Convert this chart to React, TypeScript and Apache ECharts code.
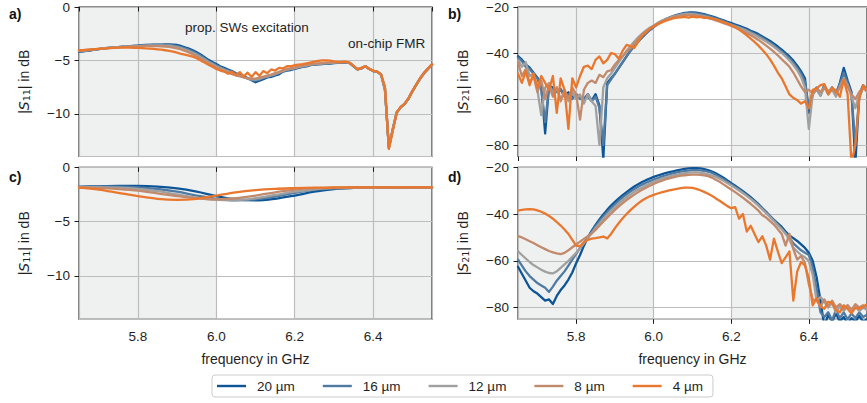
import { useEffect, useRef } from "react";
import * as echarts from "echarts";

const FONT = "'Liberation Sans', Arial, sans-serif";

// frequency grid (GHz)
const FREQ = [
  5.65, 5.66, 5.67, 5.68, 5.69, 5.7, 5.71, 5.72, 5.73, 5.74,
  5.75, 5.76, 5.77, 5.78, 5.79, 5.8, 5.81, 5.82, 5.83, 5.84,
  5.85, 5.86, 5.87, 5.88, 5.89, 5.9, 5.91, 5.92, 5.93, 5.94,
  5.95, 5.96, 5.97, 5.98, 5.99, 6.0, 6.01, 6.02, 6.03, 6.04,
  6.05, 6.06, 6.07, 6.08, 6.09, 6.1, 6.11, 6.12, 6.13, 6.14,
  6.15, 6.16, 6.17, 6.18, 6.19, 6.2, 6.21, 6.22, 6.23, 6.24,
  6.25, 6.26, 6.27, 6.28, 6.29, 6.3, 6.31, 6.32, 6.33, 6.34,
  6.35, 6.36, 6.37, 6.38, 6.39, 6.4, 6.41, 6.42, 6.43, 6.44,
  6.45, 6.46, 6.47, 6.48, 6.49, 6.5, 6.51, 6.52, 6.53, 6.54, 6.55,
];
const FREQ_C = [
  5.65, 5.7, 5.75, 5.8, 5.85, 5.9, 5.95, 6.0, 6.05, 6.1,
  6.15, 6.2, 6.25, 6.3, 6.35, 6.4, 6.45, 6.5, 6.55,
];

const WIDTHS = ["20 µm", "16 µm", "12 µm", "8 µm", "4 µm"];
const COLORS = ["#0d5596", "#4f7ba3", "#a0a0a0", "#c28a6c", "#e9772d"];

// panel a) |S11|, dB
const S11A_20 = [
  -4.2, -4.15, -4.1, -4.05, -4.0, -3.95, -3.9, -3.85, -3.8, -3.78,
  -3.75, -3.72, -3.7, -3.67, -3.64, -3.61, -3.58, -3.56, -3.54, -3.53,
  -3.52, -3.52, -3.51, -3.5, -3.52, -3.56, -3.65, -3.78, -3.9, -4.05,
  -4.25, -4.45, -4.7, -4.95, -5.15, -5.35, -5.55, -5.7, -5.85, -6.0,
  -6.2, -6.35, -6.5, -6.65, -6.85, -7.05, -6.9, -6.75, -6.6, -6.55,
  -6.4, -6.3, -6.05, -5.95, -5.9, -5.8, -5.7, -5.6, -5.55, -5.45,
  -5.4, -5.38, -5.35, -5.3, -5.3, -5.25, -5.22, -5.2, -5.18, -5.25,
  -5.55, -5.85, -5.75, -5.55, -5.8, -6.0, -6.05, -6.3, -7.6, -13.2,
  -11.5, -9.9, -9.4, -9.1, -8.6, -7.9, -7.3, -6.7, -6.2, -5.8, -5.4,
];
const S11A_16 = [
  -4.15, -4.12, -4.08, -4.03, -3.98, -3.94, -3.9, -3.86, -3.82, -3.79,
  -3.76, -3.73, -3.71, -3.68, -3.65, -3.63, -3.6, -3.58, -3.56, -3.55,
  -3.55, -3.55, -3.55, -3.56, -3.6, -3.66, -3.76, -3.88, -4.0, -4.15,
  -4.35, -4.55, -4.8, -5.05, -5.25, -5.45, -5.62, -5.78, -5.92, -6.08,
  -6.25, -6.4, -6.55, -6.7, -6.82, -6.9, -6.8, -6.65, -6.55, -6.45,
  -6.32, -6.2, -6.0, -5.9, -5.82, -5.74, -5.65, -5.57, -5.5, -5.42,
  -5.37, -5.34, -5.31, -5.27, -5.26, -5.22, -5.2, -5.18, -5.17, -5.24,
  -5.55, -5.85, -5.75, -5.55, -5.8, -6.0, -6.05, -6.35, -7.8, -13.1,
  -11.4, -9.85, -9.4, -9.05, -8.55, -7.85, -7.25, -6.65, -6.15, -5.75, -5.4,
];
const S11A_12 = [
  -4.12, -4.1, -4.05, -4.0, -3.96, -3.92, -3.88, -3.84, -3.8, -3.78,
  -3.76, -3.74, -3.72, -3.7, -3.68, -3.66, -3.64, -3.62, -3.6, -3.6,
  -3.6, -3.6, -3.61, -3.63, -3.68, -3.75, -3.85, -3.98, -4.12, -4.28,
  -4.48, -4.7, -4.92, -5.15, -5.35, -5.55, -5.72, -5.88, -6.02, -6.18,
  -6.32, -6.45, -6.58, -6.7, -6.78, -6.8, -6.72, -6.6, -6.5, -6.4,
  -6.28, -6.15, -5.98, -5.88, -5.8, -5.72, -5.63, -5.55, -5.48, -5.4,
  -5.35, -5.32, -5.29, -5.25, -5.24, -5.2, -5.18, -5.17, -5.16, -5.24,
  -5.52, -5.82, -5.72, -5.55, -5.78, -5.98, -6.05, -6.32, -7.7, -13.15,
  -11.45, -9.85, -9.38, -9.08, -8.58, -7.88, -7.28, -6.68, -6.18, -5.78, -5.38,
];
const S11A_8 = [
  -4.1, -4.08, -4.04, -4.0, -3.96, -3.92, -3.88, -3.85, -3.82, -3.8,
  -3.78, -3.76, -3.74, -3.72, -3.7, -3.69, -3.68, -3.67, -3.66, -3.66,
  -3.67, -3.68, -3.7, -3.73, -3.8, -3.88, -3.98, -4.1, -4.25, -4.42,
  -4.62, -4.85, -5.08, -5.3, -5.5, -5.68, -5.85, -6.0, -6.15, -6.28,
  -6.4, -6.5, -6.6, -6.68, -6.72, -6.7, -6.62, -6.52, -6.42, -6.32,
  -6.2, -6.08, -5.92, -5.82, -5.74, -5.66, -5.58, -5.5, -5.43, -5.36,
  -5.31, -5.28, -5.25, -5.22, -5.21, -5.18, -5.16, -5.15, -5.15, -5.24,
  -5.52, -5.82, -5.72, -5.55, -5.78, -5.98, -6.05, -6.3, -7.6, -13.2,
  -11.5, -9.88, -9.38, -9.08, -8.58, -7.88, -7.28, -6.68, -6.18, -5.78, -5.38,
];
const S11A_4 = [
  -4.05, -4.05, -4.0, -3.98, -3.95, -3.92, -3.9, -3.88, -3.85, -3.82,
  -3.8, -3.8, -3.8, -3.8, -3.82, -3.83, -3.85, -3.88, -3.9, -3.92,
  -3.96, -4.0, -4.05, -4.1, -4.18, -4.28, -4.38, -4.45, -4.55, -4.65,
  -4.8, -5.0, -5.2, -5.4, -5.6, -5.8, -5.95, -6.05, -6.25, -6.05,
  -6.4, -6.1, -6.5, -6.15, -6.55, -6.1, -6.45, -6.0, -6.2, -5.85,
  -5.95, -5.7, -5.75, -5.55, -5.55, -5.45, -5.4, -5.35, -5.28, -5.2,
  -5.12, -5.05, -5.0, -5.0, -5.02, -5.1, -5.15, -5.15, -5.12, -5.22,
  -5.5, -5.85, -5.7, -5.55, -5.8, -5.95, -6.05, -6.3, -7.5, -13.3,
  -11.6, -9.9, -9.35, -9.1, -8.55, -7.9, -7.25, -6.65, -6.15, -5.75, -5.35,
];

// panel b) |S21|, dB
const S21B_20 = [
  -41.4, -42.9, -45.0, -46.4, -48.6, -50.7, -54.3, -75.0, -54.3, -55.0,
  -56.4, -55.7, -58.6, -57.1, -59.3, -57.9, -59.3, -60.0, -57.9, -60.7,
  -57.9, -62.9, -86.0, -53.0, -51.0, -49.0, -46.5, -44.0, -41.5, -39.0,
  -37.0, -35.0, -33.2, -31.5, -30.0, -28.6, -27.3, -26.2, -25.3, -24.6,
  -24.0, -23.4, -23.0, -22.6, -22.4, -22.3, -22.5, -22.8, -23.1, -23.6,
  -24.1, -24.6, -25.2, -25.8, -26.4, -27.0, -27.6, -28.2, -28.8, -29.5,
  -30.3, -31.0, -31.8, -32.8, -33.8, -34.8, -36.0, -37.2, -38.5, -40.0,
  -41.5, -43.3, -45.5, -48.0, -51.0, -66.0, -58.0, -55.5, -58.5, -54.0,
  -57.5, -55.0, -58.0, -53.0, -46.5, -52.0, -57.0, -88.0, -58.0, -54.0, -56.0,
];
const S21B_16 = [
  -42.0, -43.5, -46.0, -47.0, -49.0, -51.0, -56.0, -70.0, -55.0, -56.0,
  -57.0, -56.0, -59.0, -58.0, -60.0, -58.0, -60.0, -60.0, -59.0, -61.0,
  -59.0, -64.0, -80.0, -54.0, -51.5, -49.0, -46.5, -44.0, -41.5, -39.0,
  -37.0, -35.0, -33.2, -31.5, -30.0, -28.7, -27.5, -26.4, -25.5, -24.8,
  -24.2, -23.6, -23.2, -22.8, -22.6, -22.6, -22.8, -23.1, -23.4, -23.9,
  -24.4, -24.9, -25.5, -26.1, -26.8, -27.5, -28.1, -28.7, -29.3, -30.0,
  -30.8, -31.6, -32.4, -33.4, -34.4, -35.5, -36.7, -38.0, -39.3, -40.8,
  -42.3, -44.2, -46.5, -49.0, -52.5, -64.0, -57.0, -55.0, -57.5, -54.5,
  -57.0, -55.5, -57.5, -53.5, -48.5, -53.0, -58.0, -80.0, -59.0, -55.0, -56.5,
];
const S21B_12 = [
  -43.0, -46.0, -44.0, -50.0, -49.0, -56.0, -67.0, -55.0, -53.0, -58.0,
  -55.0, -60.0, -57.0, -61.0, -57.0, -60.0, -58.0, -62.0, -58.0, -61.0,
  -63.0, -80.0, -55.0, -51.0, -49.0, -46.5, -44.0, -41.5, -39.0, -37.0,
  -35.0, -33.2, -31.6, -30.2, -29.0, -28.0, -27.0, -26.0, -25.3, -24.7,
  -24.1, -23.7, -23.3, -23.1, -23.0, -23.1, -23.3, -23.6, -24.0, -24.4,
  -24.9, -25.4, -26.0, -26.6, -27.2, -27.8, -28.4, -29.0, -29.7, -30.5,
  -31.3, -32.1, -33.0, -34.0, -35.0, -36.1, -37.3, -38.6, -40.0, -41.5,
  -43.2, -45.2, -47.5, -50.5, -55.0, -73.0, -58.0, -56.0, -58.5, -55.0,
  -58.0, -56.0, -59.0, -54.5, -51.0, -54.0, -59.0, -64.0, -58.0, -55.0, -57.0,
];
const S21B_8 = [
  -44.0, -50.0, -47.0, -53.0, -50.0, -57.0, -52.0, -60.0, -54.0, -59.0,
  -55.0, -61.0, -56.0, -60.0, -55.0, -58.0, -69.0, -56.0, -53.0, -52.0,
  -53.0, -49.5, -50.5, -48.0, -47.5, -45.0, -43.0, -41.5, -39.5, -38.0,
  -36.0, -34.0, -32.0, -30.5, -29.3, -28.3, -27.2, -26.3, -25.6, -25.0,
  -24.4, -24.0, -23.7, -23.5, -23.4, -23.5, -23.7, -24.0, -24.4, -24.8,
  -25.3, -25.8, -26.4, -27.0, -27.6, -28.2, -28.9, -29.7, -30.5, -31.4,
  -32.3, -33.3, -34.3, -35.5, -36.8, -38.1, -39.5, -41.0, -42.7, -44.3,
  -46.0, -48.5, -51.5, -54.5, -57.0, -56.0, -57.5, -55.5, -57.0, -55.0,
  -56.5, -55.5, -57.5, -55.0, -52.5, -54.5, -58.0, -60.0, -57.0, -55.0, -56.5,
];
const S21B_4 = [
  -49.0, -53.0, -48.0, -54.0, -49.0, -55.0, -50.0, -53.0, -56.0, -50.0,
  -66.0, -51.0, -56.0, -73.0, -51.0, -55.0, -50.0, -46.0, -45.5, -47.0,
  -43.0, -41.5, -44.5, -43.0, -40.0, -40.5, -42.5, -39.0, -36.5, -37.0,
  -37.8, -35.0, -32.5, -31.0, -29.5, -28.5, -27.5, -26.8, -26.0, -25.5,
  -25.0, -24.6, -24.5, -24.3, -24.6, -24.2, -24.5, -24.3, -24.7, -24.6,
  -25.0, -25.4, -26.0, -26.6, -27.3, -27.9, -28.8, -29.8, -31.0, -32.3,
  -33.8, -35.2, -36.8, -38.6, -40.5, -42.8, -45.5, -48.5, -51.0, -54.5,
  -58.0, -59.5, -60.5, -62.0, -61.0, -64.0, -56.0, -55.5, -54.0, -53.5,
  -58.0, -55.0, -56.5, -59.0, -51.5, -58.0, -88.0, -80.0, -60.0, -54.0, -56.0,
];

// panel c) |S11|, dB
const S11C_20 = [-1.8, -1.75, -1.72, -1.72, -1.78, -1.95, -2.25, -2.65, -2.95, -3.05, -2.9, -2.6, -2.25, -2.0, -1.9, -1.88, -1.9, -1.85, -1.85];
const S11C_16 = [-1.8, -1.77, -1.78, -1.85, -2.0, -2.25, -2.6, -2.9, -3.05, -2.95, -2.7, -2.35, -2.08, -1.95, -1.9, -1.88, -1.88, -1.85, -1.85];
const S11C_12 = [-1.82, -1.82, -1.88, -2.0, -2.2, -2.5, -2.8, -3.0, -3.02, -2.85, -2.55, -2.25, -2.02, -1.92, -1.88, -1.87, -1.86, -1.85, -1.85];
const S11C_8 = [-1.85, -1.9, -2.0, -2.15, -2.4, -2.65, -2.85, -2.95, -2.85, -2.6, -2.3, -2.05, -1.92, -1.88, -1.86, -1.85, -1.85, -1.85, -1.85];
const S11C_4 = [-1.88, -2.05, -2.35, -2.65, -2.9, -3.0, -2.9, -2.6, -2.3, -2.1, -1.98, -1.92, -1.88, -1.86, -1.85, -1.85, -1.85, -1.85, -1.85];

// panel d) |S21|, dB
const S21D_20 = [
  -62.5, -65.5, -68.5, -71.5, -73.0, -74.0, -75.5, -77.0, -76.5, -78.5,
  -75.0, -72.5, -70.5, -68.0, -65.0, -61.0, -57.5, -53.5, -50.0, -47.2,
  -44.6, -42.3, -40.2, -38.2, -36.4, -34.8, -33.3, -31.9, -30.6, -29.4,
  -28.2, -27.2, -26.3, -25.5, -24.8, -24.1, -23.5, -23.0, -22.5, -22.1,
  -21.7, -21.3, -21.0, -20.7, -20.5, -20.4, -20.4, -20.5, -20.8, -21.2,
  -21.8, -22.6, -23.5, -24.5, -25.6, -26.8, -27.9, -29.0, -30.2, -31.5,
  -32.8, -34.2, -35.7, -37.4, -39.0, -40.8, -42.5, -44.0, -45.5, -47.5,
  -49.2, -50.3, -51.5, -53.0, -54.5, -56.5, -60.0, -67.0, -77.0, -88.0,
  -83.0, -86.0, -82.5, -86.0, -84.0, -87.0, -84.5, -86.0, -83.5, -86.0, -85.0,
];
const S21D_16 = [
  -59.5, -62.0, -64.5, -66.5, -68.0, -69.5, -70.5, -71.5, -73.3, -71.0,
  -68.5, -66.5, -64.5, -62.0, -59.5, -57.0, -54.5, -52.2, -50.0, -47.6,
  -45.2, -43.0, -41.0, -39.1, -37.4, -35.8, -34.3, -32.9, -31.6, -30.4,
  -29.3, -28.3, -27.4, -26.6, -25.9, -25.2, -24.6, -24.0, -23.5, -23.0,
  -22.6, -22.2, -21.9, -21.6, -21.4, -21.2, -21.2, -21.3, -21.5, -21.9,
  -22.4, -23.2, -24.1, -25.1, -26.2, -27.3, -28.4, -29.5, -30.7, -32.0,
  -33.3, -34.7, -36.2, -37.8, -39.4, -41.1, -42.8, -44.5, -46.2, -48.0,
  -50.0, -52.5, -54.0, -55.5, -56.5, -57.5, -63.0, -72.0, -82.0, -84.0,
  -82.0, -85.5, -81.0, -84.5, -82.0, -85.0, -82.5, -84.5, -82.0, -84.0, -83.0,
];
const S21D_12 = [
  -55.9, -57.5, -59.0, -60.5, -61.8, -62.8, -63.8, -64.6, -65.2, -65.4,
  -64.5, -63.0, -61.5, -60.0, -58.3, -56.6, -54.6, -52.5, -50.3, -48.2,
  -46.0, -44.0, -42.0, -40.2, -38.5, -37.0, -35.5, -34.1, -32.8, -31.6,
  -30.5, -29.5, -28.6, -27.7, -26.9, -26.2, -25.5, -24.9, -24.4, -23.9,
  -23.5, -23.1, -22.8, -22.5, -22.3, -22.2, -22.2, -22.3, -22.6, -23.0,
  -23.5, -24.1, -24.9, -25.8, -26.8, -27.8, -28.8, -29.9, -31.0, -32.2,
  -33.5, -34.9, -36.4, -38.0, -39.6, -41.3, -43.0, -44.8, -46.5, -48.5,
  -51.0, -54.5, -56.0, -57.5, -58.5, -60.0, -66.0, -77.0, -75.5, -77.5,
  -80.0, -78.0, -82.0, -79.5, -81.5, -79.0, -81.0, -79.5, -81.5, -80.0, -81.0,
];
const S21D_8 = [
  -49.4, -50.0, -50.8, -51.6, -52.4, -53.3, -54.2, -55.0, -55.8, -56.4,
  -56.8, -57.1, -56.6, -55.5, -54.2, -53.0, -51.8, -50.6, -49.5, -48.3,
  -46.8, -45.0, -43.2, -41.5, -39.8, -38.2, -36.7, -35.3, -34.0, -32.8,
  -31.7, -30.6, -29.6, -28.7, -27.9, -27.1, -26.4, -25.8, -25.2, -24.7,
  -24.3, -23.9, -23.6, -23.4, -23.2, -23.1, -23.1, -23.2, -23.5, -23.8,
  -24.4, -25.3, -26.2, -27.3, -28.4, -29.5, -30.6, -31.8, -33.0, -34.3,
  -35.6, -37.0, -38.5, -40.5, -41.5, -43.0, -44.5, -46.5, -48.5, -53.5,
  -48.5, -55.0, -59.5, -58.0, -61.0, -70.0, -76.5, -77.0, -79.5, -76.5,
  -79.5, -77.0, -80.0, -78.5, -80.5, -79.0, -81.0, -78.5, -80.0, -79.0, -80.0,
];
const S21D_4 = [
  -38.5, -38.2, -38.0, -37.9, -38.0, -38.4, -39.0, -39.8, -40.8, -42.0,
  -43.4, -44.9, -46.6, -48.5, -51.0, -53.5, -53.8, -52.0, -51.0, -50.5,
  -50.3, -50.0, -49.6, -50.4, -48.5, -46.0, -43.8, -41.8, -40.0, -38.3,
  -36.8, -35.4, -34.2, -33.2, -32.4, -31.8, -31.2, -30.7, -30.3, -29.9,
  -29.5, -29.2, -28.9, -28.7, -28.7, -28.8, -29.2, -29.8, -30.5, -31.3,
  -32.2, -33.3, -34.3, -35.5, -36.6, -37.5, -37.0, -42.0, -40.0, -47.5,
  -45.0, -48.5, -52.0, -49.5, -53.5, -59.5, -50.5, -56.0, -61.0, -58.5,
  -56.0, -77.0, -64.5, -60.5, -62.0, -67.5, -79.0, -76.0, -79.5, -80.5,
  -77.5, -78.0, -81.0, -82.0, -79.0, -80.5, -82.5, -80.0, -80.5, -79.7, -78.5,
];

const PANEL_A = [S11A_20, S11A_16, S11A_12, S11A_8, S11A_4];
const PANEL_B = [S21B_20, S21B_16, S21B_12, S21B_8, S21B_4];
const PANEL_C = [S11C_20, S11C_16, S11C_12, S11C_8, S11C_4];
const PANEL_D = [S21D_20, S21D_16, S21D_12, S21D_8, S21D_4];

const TXT = "#1f1f1f";

function yFmt(v: number) {
  return v < 0 ? "\u2212" + String(-v) : String(v);
}

export default function App() {
  const ref = useRef<HTMLDivElement>(null);

  useEffect(() => {
    if (!ref.current) return;
    const chart = echarts.init(ref.current, undefined, { renderer: "svg" });

    const grids = [
      { left: 79, top: 5, width: 353, height: 151.5 },
      { left: 518, top: 5, width: 353, height: 151.5 },
      { left: 79, top: 167.3, width: 353, height: 152 },
      { left: 518, top: 167.3, width: 353, height: 152 },
    ].map((g) => ({
      ...g,
      show: true,
      backgroundColor: "transparent",
      borderColor: "#1a1a1a",
      borderWidth: 1.1,
    }));

    const splitLine = { show: true, lineStyle: { color: "#bdbdbd", width: 1.2 } };
    const axisTick = { show: true, length: 4.5, lineStyle: { color: "#1a1a1a", width: 1 } };

    const xAxes = [0, 1, 2, 3].map((i) => ({
      type: "value",
      gridIndex: i,
      min: 5.65,
      max: 6.55,
      minInterval: 0.2,
      maxInterval: 0.2,
      splitLine,
      axisTick,
      axisLine: { show: false },
      axisLabel: {
        show: i >= 2,
        showMinLabel: false,
        showMaxLabel: false,
        formatter: (v: number) => v.toFixed(1),
        fontSize: 13.5,
        color: TXT,
        fontFamily: FONT,
        margin: 10,
      },
      name: i >= 2 ? "frequency in GHz" : "",
      nameLocation: "middle",
      nameGap: 33,
      nameTextStyle: { fontSize: 14, color: TXT, fontFamily: FONT },
    }));

    const yRich = {
      t: { fontSize: 14, color: TXT, fontFamily: FONT },
      i: { fontSize: 14, color: TXT, fontFamily: "'DejaVu Sans', sans-serif", fontStyle: "italic" },
      s: { fontSize: 9.5, color: TXT, fontFamily: "'DejaVu Sans', sans-serif", padding: [5, 0, 0, 0] },
    };

    const yAxes = [0, 1, 2, 3].map((i) => {
      const isS21 = i === 1 || i === 3;
      return {
        type: "value",
        gridIndex: i,
        min: isS21 ? -85 : -14,
        max: isS21 ? -20 : 0,
        minInterval: isS21 ? 20 : 5,
        maxInterval: isS21 ? 20 : 5,
        splitLine,
        axisTick,
        axisLine: { show: false },
        axisLabel: {
          showMinLabel: false,
          showMaxLabel: true,
          formatter: yFmt,
          fontSize: 13.5,
          color: TXT,
          fontFamily: FONT,
          margin: 9,
        },
        name: isS21 ? "{t||}{i|S}{s|21}{t|| in dB}" : "{t||}{i|S}{s|11}{t|| in dB}",
        nameLocation: "middle",
        nameGap: 48,
        nameTextStyle: { fontSize: 14, color: TXT, fontFamily: FONT, rich: yRich },
      };
    });

    const panels = [
      { xs: FREQ, data: PANEL_A, smooth: false },
      { xs: FREQ, data: PANEL_B, smooth: false },
      { xs: FREQ_C, data: PANEL_C, smooth: 0.35 },
      { xs: FREQ, data: PANEL_D, smooth: false },
    ];

    const series: any[] = [];
    panels.forEach((p, pi) => {
      p.data.forEach((ys, k) => {
        const s: any = {
          type: "line",
          name: WIDTHS[k],
          xAxisIndex: pi,
          yAxisIndex: pi,
          data: p.xs.map((x, j) => [x, ys[j]]),
          showSymbol: false,
          symbol: "none",
          smooth: p.smooth,
          clip: true,
          z: 3,
          color: COLORS[k],
          lineStyle: { width: 2.3, color: COLORS[k], join: "round", cap: "round" },
          emphasis: { disabled: true },
        };
        if (k === 0) {
          s.markArea = {
            silent: true,
            z: -1,
            itemStyle: { color: "#eff1f1" },
            data: [
              [{ xAxis: 5.65 }, { xAxis: 6.0 }],
              [{ xAxis: 6.2 }, { xAxis: 6.55 }],
            ],
          };
        }
        series.push(s);
      });
    });

    const panelLabel = (text: string, x: number, y: number) => ({
      type: "text",
      x,
      y,
      style: {
        text,
        fontSize: 14,
        fontWeight: "bold",
        fontFamily: FONT,
        fill: "#111111",
        verticalAlign: "middle",
      },
    });
    const note = (text: string, x: number, y: number) => ({
      type: "text",
      x,
      y,
      z: 10,
      style: {
        text,
        fontSize: 13.5,
        fontFamily: FONT,
        fill: TXT,
        verticalAlign: "middle",
      },
    });

    chart.setOption({
      animation: false,
      textStyle: { fontFamily: FONT },
      grid: grids,
      xAxis: xAxes,
      yAxis: yAxes,
      legend: {
        data: WIDTHS.map((name) => ({ name, icon: "rect" })),
        left: 212,
        top: 375,
        itemWidth: 29,
        itemHeight: 2.4,
        itemGap: 28,
        padding: [4, 10, 4, 5],
        borderColor: "#cccccc",
        borderWidth: 1,
        borderRadius: 3,
        selectedMode: false,
        textStyle: { fontSize: 13.5, color: TXT, fontFamily: FONT, padding: [0, 0, 0, 6] },
      },
      graphic: [
        panelLabel("a)", 9, 14),
        panelLabel("b)", 448, 14),
        panelLabel("c)", 9, 177),
        panelLabel("d)", 448, 177),
        note("prop. SWs excitation", 185, 27),
        note("on-chip FMR", 348, 43),
      ],
      series,
    });

    return () => chart.dispose();
  }, []);

  return (
    <div
      ref={ref}
      style={{ position: "fixed", left: 0, top: 0, width: 867, height: 403, background: "#ffffff" }}
    />
  );
}
